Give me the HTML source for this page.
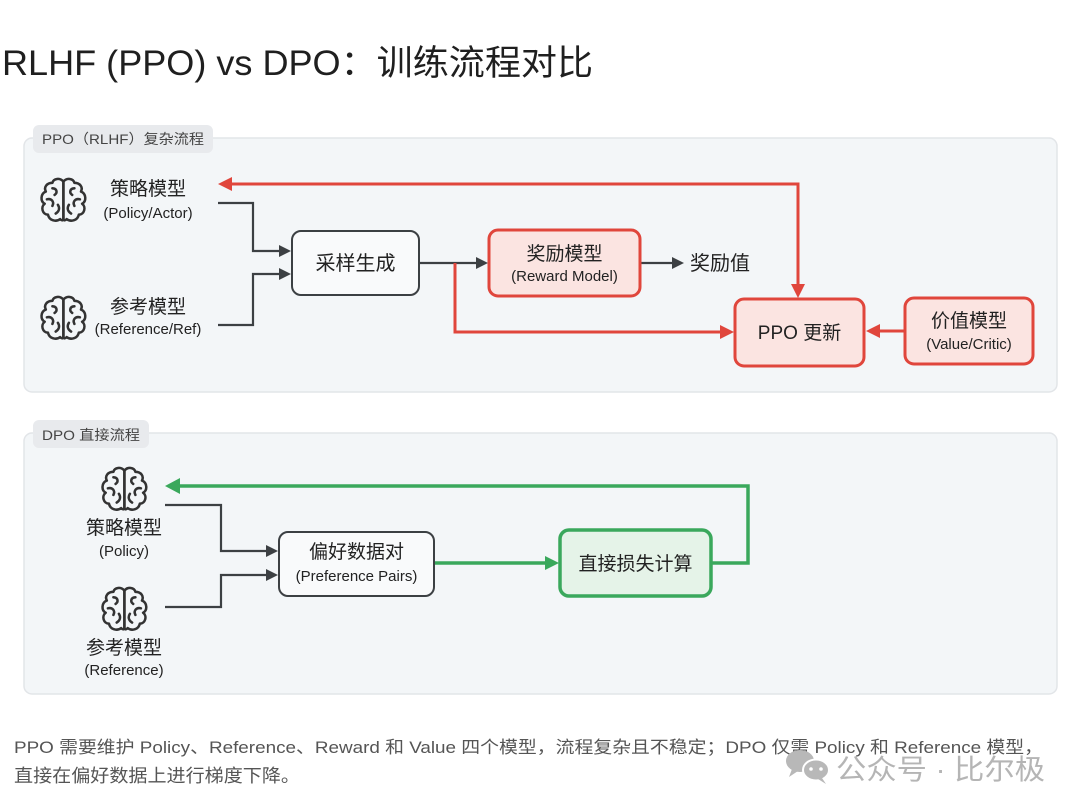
<!DOCTYPE html>
<html><head><meta charset="utf-8"><style>
html,body{margin:0;padding:0;background:#fff;}
svg{display:block;}
text{font-family:"Liberation Sans","Noto Sans CJK SC",sans-serif;}
</style></head><body>
<svg width="1080" height="810" viewBox="0 0 1080 810" xmlns="http://www.w3.org/2000/svg">
<defs>
<g id="brain" fill="none" stroke="#333" stroke-width="2.3" stroke-linecap="round" stroke-linejoin="round">
<path d="M24 7 C21 3 15 4 14 8 C9 8 6 12 8 16 C3 18 3 25 7 27 C3 30 5 37 10 37 C11 42 17 44 21 41 C23 43 24 42 24 40 Z"/>
<path d="M24 7 C27 3 33 4 34 8 C39 8 42 12 40 16 C45 18 45 25 41 27 C45 30 43 37 38 37 C37 42 31 44 27 41 C25 43 24 42 24 40 Z"/>
<path d="M14 13 C18 13 19 17 16 19"/>
<path d="M9 23 C13 22 16 25 14 29"/>
<path d="M19 28 C21 31 20 34 17 36"/>
<path d="M34 13 C30 13 29 17 32 19"/>
<path d="M39 23 C35 22 32 25 34 29"/>
<path d="M29 28 C27 31 28 34 31 36"/>
</g>
</defs>

<!-- Title -->
<text x="2" y="75" font-size="35" fill="#1f1f1f" textLength="591" lengthAdjust="spacingAndGlyphs">RLHF (PPO) vs DPO：训练流程对比</text>

<!-- Top panel -->
<rect x="24" y="138" width="1033" height="254" rx="8" fill="#f3f6f8" stroke="#e2e5e8" stroke-width="1.5"/>
<rect x="33" y="125" width="180" height="28" rx="6" fill="#e8eaed"/>
<text x="42" y="144" font-size="14" fill="#444" textLength="162" lengthAdjust="spacingAndGlyphs">PPO（RLHF）复杂流程</text>

<!-- Bottom panel -->
<rect x="24" y="433" width="1033" height="261" rx="8" fill="#f3f6f8" stroke="#e2e5e8" stroke-width="1.5"/>
<rect x="33" y="420" width="116" height="28" rx="6" fill="#e8eaed"/>
<text x="42" y="440" font-size="14" fill="#444" textLength="98" lengthAdjust="spacingAndGlyphs">DPO 直接流程</text>

<!-- PPO brains and labels -->
<use href="#brain" transform="translate(37,174) scale(1.1)"/>
<use href="#brain" transform="translate(37,292) scale(1.1)"/>
<text x="148" y="195" font-size="19" fill="#222" text-anchor="middle">策略模型</text>
<text x="148" y="218" font-size="15" fill="#222" text-anchor="middle">(Policy/Actor)</text>
<text x="148" y="313" font-size="19" fill="#222" text-anchor="middle">参考模型</text>
<text x="148" y="334" font-size="15" fill="#222" text-anchor="middle">(Reference/Ref)</text>

<!-- PPO dark connectors -->
<g fill="none" stroke="#3c4043" stroke-width="2.2">
<polyline points="218,203 253,203 253,251 281,251"/>
<polyline points="218,325 253,325 253,274 281,274"/>
<line x1="419" y1="263" x2="477" y2="263"/>
<line x1="641" y1="263" x2="673" y2="263"/>
</g>
<g fill="#3c4043">
<polygon points="291,251 279,245 279,257"/>
<polygon points="291,274 279,268 279,280"/>
<polygon points="488,263 476,257 476,269"/>
<polygon points="684,263 672,257 672,269"/>
</g>

<!-- PPO red connectors -->
<g fill="none" stroke="#e0463c" stroke-width="3">
<polyline points="798,285 798,184 230,184"/>
<polyline points="455,263 455,332 722,332"/>
<line x1="904" y1="331" x2="878" y2="331"/>
</g>
<g fill="#e0463c">
<polygon points="218,184 232,177 232,191"/>
<polygon points="798,298 791,284 805,284"/>
<polygon points="734,332 720,325 720,339"/>
<polygon points="866,331 880,324 880,338"/>
</g>

<!-- 采样生成 -->
<rect x="292" y="231" width="127" height="64" rx="9" fill="#f9fafb" stroke="#3c4043" stroke-width="2"/>
<text x="355.5" y="270" font-size="20" fill="#222" text-anchor="middle">采样生成</text>

<!-- 奖励模型 -->
<rect x="489" y="230" width="151" height="66" rx="9" fill="#fbe4e1" stroke="#e0463c" stroke-width="3"/>
<text x="564.5" y="260" font-size="19" fill="#222" text-anchor="middle">奖励模型</text>
<text x="564.5" y="281" font-size="15" fill="#222" text-anchor="middle">(Reward Model)</text>
<text x="690" y="270" font-size="20" fill="#222">奖励值</text>

<!-- PPO 更新 -->
<rect x="735" y="299" width="129" height="67" rx="9" fill="#fbe4e1" stroke="#e0463c" stroke-width="3"/>
<text x="799.5" y="339" font-size="19" fill="#222" text-anchor="middle">PPO 更新</text>

<!-- 价值模型 -->
<rect x="905" y="298" width="128" height="66" rx="9" fill="#fbe4e1" stroke="#e0463c" stroke-width="3"/>
<text x="969" y="327" font-size="19" fill="#222" text-anchor="middle">价值模型</text>
<text x="969" y="349" font-size="15" fill="#222" text-anchor="middle">(Value/Critic)</text>

<!-- DPO brains and labels -->
<use href="#brain" transform="translate(98,463) scale(1.1)"/>
<use href="#brain" transform="translate(98,583) scale(1.1)"/>
<text x="124" y="534" font-size="19" fill="#222" text-anchor="middle">策略模型</text>
<text x="124" y="556" font-size="15" fill="#222" text-anchor="middle">(Policy)</text>
<text x="124" y="654" font-size="19" fill="#222" text-anchor="middle">参考模型</text>
<text x="124" y="675" font-size="15" fill="#222" text-anchor="middle">(Reference)</text>

<!-- DPO dark connectors -->
<g fill="none" stroke="#3c4043" stroke-width="2.2">
<polyline points="165,505 221,505 221,551 267,551"/>
<polyline points="165,607 221,607 221,575 267,575"/>
</g>
<g fill="#3c4043">
<polygon points="278,551 266,545 266,557"/>
<polygon points="278,575 266,569 266,581"/>
</g>

<!-- DPO green connectors -->
<g fill="none" stroke="#3aa85c" stroke-width="3.5">
<polyline points="712,563 748,563 748,486 178,486"/>
<line x1="434" y1="563" x2="547" y2="563"/>
</g>
<g fill="#3aa85c">
<polygon points="165,486 180,478 180,494"/>
<polygon points="559,563 545,556 545,570"/>
</g>

<!-- 偏好数据对 -->
<rect x="279" y="532" width="155" height="64" rx="9" fill="#f9fafb" stroke="#3c4043" stroke-width="2"/>
<text x="356.5" y="558" font-size="19" fill="#222" text-anchor="middle">偏好数据对</text>
<text x="356.5" y="581" font-size="15" fill="#222" text-anchor="middle">(Preference Pairs)</text>

<!-- 直接损失计算 -->
<rect x="560" y="530" width="151" height="66" rx="9" fill="#e5f3e8" stroke="#3aa85c" stroke-width="3.5"/>
<text x="635.5" y="570" font-size="19" fill="#222" text-anchor="middle">直接损失计算</text>

<!-- Footer -->
<text x="14" y="753" font-size="17" fill="#555" textLength="1029" lengthAdjust="spacingAndGlyphs">PPO 需要维护 Policy、Reference、Reward 和 Value 四个模型，流程复杂且不稳定；DPO 仅需 Policy 和 Reference 模型，</text>
<text x="14" y="782" font-size="18" fill="#555" textLength="286" lengthAdjust="spacingAndGlyphs">直接在偏好数据上进行梯度下降。</text>

<!-- Watermark -->
<g fill="#b8b8b8">
<ellipse cx="800" cy="761" rx="14" ry="11"/>
<polygon points="792,769 789,777 798,771"/>
<ellipse cx="816" cy="770" rx="13" ry="10.5" stroke="#fff" stroke-width="2"/>
<polygon points="822,778 826,784 818,779"/>
</g>
<g fill="#fff">
<circle cx="811" cy="769" r="1.8"/>
<circle cx="821" cy="769" r="1.8"/>
</g>
<text x="836" y="779" font-size="28" fill="#b5b5b5" textLength="209" lengthAdjust="spacingAndGlyphs">公众号 · 比尔极</text>
</svg>
</body></html>
